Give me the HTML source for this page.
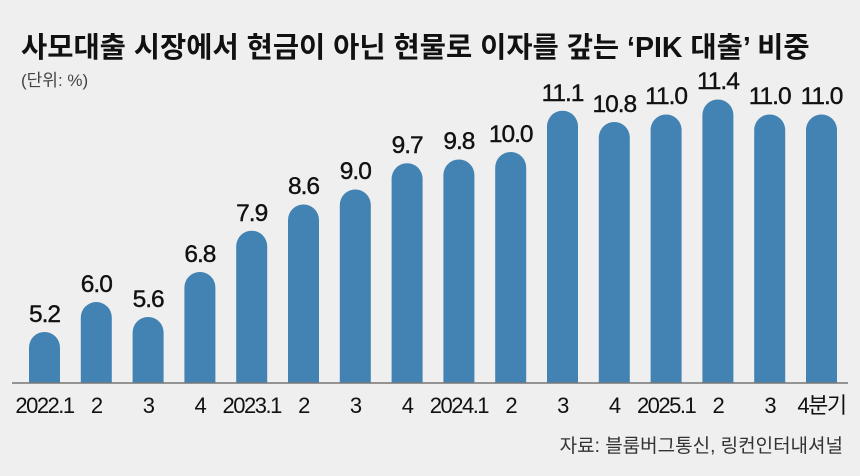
<!DOCTYPE html><html><head><meta charset="utf-8"><style>
body{margin:0;width:860px;height:471px;background:#efefef;overflow:hidden}
</style></head><body>
<svg width="860" height="471" xmlns="http://www.w3.org/2000/svg" font-family="Liberation Sans, Noto Sans CJK KR, sans-serif">
<text x="21" y="57" font-size="28.5" font-weight="bold" fill="#111">사모대출 시장에서 현금이 아닌 현물로 이자를 갚는 ‘PIK 대출’ 비중</text>
<text x="21" y="86" font-size="17" fill="#444">(단위: %)</text>
<g fill="#4383b3">
<path d="M29 383V347.5A15.5 15.5 0 0 1 60 347.5V383Z"/>
<path d="M80.8 383V317.5A15.5 15.5 0 0 1 111.8 317.5V383Z"/>
<path d="M132.6 383V332.5A15.5 15.5 0 0 1 163.6 332.5V383Z"/>
<path d="M184.4 383V287.5A15.5 15.5 0 0 1 215.4 287.5V383Z"/>
<path d="M236.2 383V246.25A15.5 15.5 0 0 1 267.2 246.25V383Z"/>
<path d="M288 383V220A15.5 15.5 0 0 1 319 220V383Z"/>
<path d="M339.8 383V205A15.5 15.5 0 0 1 370.8 205V383Z"/>
<path d="M391.6 383V178.75A15.5 15.5 0 0 1 422.6 178.75V383Z"/>
<path d="M443.4 383V175A15.5 15.5 0 0 1 474.4 175V383Z"/>
<path d="M495.2 383V167.5A15.5 15.5 0 0 1 526.2 167.5V383Z"/>
<path d="M547 383V126.25A15.5 15.5 0 0 1 578 126.25V383Z"/>
<path d="M598.8 383V137.5A15.5 15.5 0 0 1 629.8 137.5V383Z"/>
<path d="M650.6 383V130A15.5 15.5 0 0 1 681.6 130V383Z"/>
<path d="M702.4 383V115A15.5 15.5 0 0 1 733.4 115V383Z"/>
<path d="M754.2 383V130A15.5 15.5 0 0 1 785.2 130V383Z"/>
<path d="M806 383V130A15.5 15.5 0 0 1 837 130V383Z"/>
</g>
<line x1="12" y1="383" x2="848" y2="383" stroke="#777" stroke-width="1.5"/>
<g font-size="24.5" fill="#111" text-anchor="middle" letter-spacing="-1" stroke="#111" stroke-width="0.4">
<text x="44.5" y="322">5.2</text>
<text x="96.3" y="292">6.0</text>
<text x="148.1" y="307">5.6</text>
<text x="199.9" y="262">6.8</text>
<text x="251.7" y="221">7.9</text>
<text x="303.5" y="194">8.6</text>
<text x="355.3" y="179">9.0</text>
<text x="407.1" y="153">9.7</text>
<text x="458.9" y="149">9.8</text>
<text x="510.7" y="142">10.0</text>
<text x="562.5" y="101">11.1</text>
<text x="614.3" y="112">10.8</text>
<text x="666.1" y="104">11.0</text>
<text x="717.9" y="89">11.4</text>
<text x="769.7" y="104">11.0</text>
<text x="821.5" y="104">11.0</text>
</g>
<g font-size="22" fill="#111" text-anchor="middle" letter-spacing="-1.5">
<text x="44.5" y="413">2022.1</text>
<text x="96.3" y="413">2</text>
<text x="148.1" y="413">3</text>
<text x="199.9" y="413">4</text>
<text x="251.7" y="413">2023.1</text>
<text x="303.5" y="413">2</text>
<text x="355.3" y="413">3</text>
<text x="407.1" y="413">4</text>
<text x="458.9" y="413">2024.1</text>
<text x="510.7" y="413">2</text>
<text x="562.5" y="413">3</text>
<text x="614.3" y="413">4</text>
<text x="666.1" y="413">2025.1</text>
<text x="717.9" y="413">2</text>
<text x="769.7" y="413">3</text>
<text x="821.5" y="413">4분기</text>
</g>
<text x="843" y="452" font-size="19" fill="#333" text-anchor="end">자료: 블룸버그통신, 링컨인터내셔널</text>
</svg></body></html>
